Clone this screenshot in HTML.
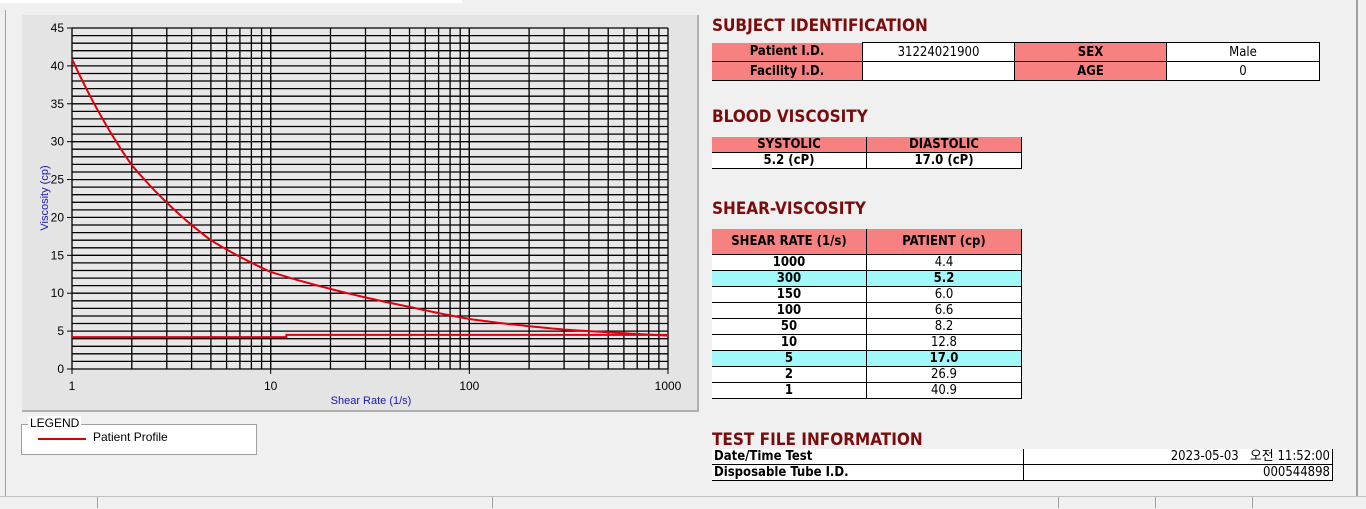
<!DOCTYPE html>
<html><head><meta charset="utf-8"><style>
body{margin:0;width:1366px;height:508px;background:#f0f0f0;position:relative;overflow:hidden;font-family:"Liberation Sans","Noto Sans CJK KR",sans-serif}
.abs{position:absolute}
h2{position:absolute;margin:0;font:bold 17px "DejaVu Sans Condensed","Liberation Sans",sans-serif;color:#7a0c0c;letter-spacing:0}
table{position:absolute;border-collapse:collapse;font-family:"DejaVu Sans Condensed","Liberation Sans",sans-serif;font-size:13px;color:#000}
td{border:1px solid #000;padding:0;text-align:center;height:18px;line-height:15px}
.h{background:#f78080;font-weight:bold}
.w{background:#fff}
.c{background:#a0f8f8;font-weight:bold}
.b{font-weight:bold}
</style></head><body>
<div class="abs" style="left:0;top:0;width:462px;height:3px;background:#fff"></div>
<div class="abs" style="left:5px;top:10px;width:1px;height:486px;background:#a0a0a0"></div>
<div class="abs" style="left:1356px;top:0;width:2px;height:496px;background:#a0a0a0"></div>
<div class="abs" style="left:22px;top:15px;width:675px;height:395px;background:#e4e4e4;border-right:2px solid #b0b0b0;border-bottom:2px solid #b0b0b0"></div>
<svg class="abs" style="left:0;top:0" width="700" height="420" id="ch"></svg>
<div class="abs" style="left:21px;top:424px;width:234px;height:29px;background:#fff;border:1px solid #a0a0a0"></div>
<div class="abs" style="left:28px;top:416px;background:#fff;font-size:12px;padding:0 2px">LEGEND</div>
<div class="abs" style="left:38px;top:438px;width:48px;height:2px;background:#d00"></div>
<div class="abs" style="left:93px;top:430px;font-size:12px">Patient Profile</div>

<h2 style="left:712px;top:16px">SUBJECT IDENTIFICATION</h2>
<table style="left:712px;top:42px;width:608px">
<tr><td class="h" style="width:150px;border-top:none;border-left:none">Patient I.D.</td><td class="w" style="width:151px">31224021900</td><td class="h" style="width:151px">SEX</td><td class="w">Male</td></tr>
<tr><td class="h" style="border-left:none">Facility I.D.</td><td class="w"></td><td class="h">AGE</td><td class="w">0</td></tr>
</table>
<h2 style="left:712px;top:107px">BLOOD VISCOSITY</h2>
<table style="left:712px;top:137px;width:310px">
<tr><td class="h" style="width:154px;height:15px;border-top:none;border-left:none">SYSTOLIC</td><td class="h" style="height:15px;border-top:none">DIASTOLIC</td></tr>
<tr><td class="w b" style="height:15px;border-left:none">5.2 (cP)</td><td class="w b" style="height:15px">17.0 (cP)</td></tr>
</table>
<h2 style="left:712px;top:199px">SHEAR-VISCOSITY</h2>
<table style="left:712px;top:229px;width:310px">
<tr><td class="h" style="width:154px;height:25px;border-top:none;border-left:none">SHEAR RATE (1/s)</td><td class="h" style="height:25px;border-top:none">PATIENT (cp)</td></tr>
<tr><td class="w b" style="height:15px;border-left:none">1000</td><td class="w" style="height:15px">4.4</td></tr>
<tr><td class="c" style="height:15px;border-left:none">300</td><td class="c" style="height:15px">5.2</td></tr>
<tr><td class="w b" style="height:15px;border-left:none">150</td><td class="w" style="height:15px">6.0</td></tr>
<tr><td class="w b" style="height:15px;border-left:none">100</td><td class="w" style="height:15px">6.6</td></tr>
<tr><td class="w b" style="height:15px;border-left:none">50</td><td class="w" style="height:15px">8.2</td></tr>
<tr><td class="w b" style="height:15px;border-left:none">10</td><td class="w" style="height:15px">12.8</td></tr>
<tr><td class="c" style="height:15px;border-left:none">5</td><td class="c" style="height:15px">17.0</td></tr>
<tr><td class="w b" style="height:15px;border-left:none">2</td><td class="w" style="height:15px">26.9</td></tr>
<tr><td class="w b" style="height:15px;border-left:none">1</td><td class="w" style="height:15px">40.9</td></tr>
</table>
<h2 style="left:712px;top:430px">TEST FILE INFORMATION</h2>
<table style="left:712px;top:449px;width:621px">
<tr><td class="w b" style="width:309px;height:15px;text-align:left;padding-left:2px;border-top:none;border-left:none">Date/Time Test</td><td class="w" style="height:15px;text-align:right;padding-right:2px;border-top:none">2023-05-03 &nbsp; 오전 11:52:00</td></tr>
<tr><td class="w b" style="height:15px;text-align:left;padding-left:2px;border-left:none">Disposable Tube I.D.</td><td class="w" style="height:15px;text-align:right;padding-right:2px">000544898</td></tr>
</table>
<div class="abs" style="left:0;top:496px;width:1366px;height:12px;background:#f0f0f0;border-top:1px solid #c0c0c0"></div>
<div class="abs" style="left:97px;top:497px;width:1px;height:11px;background:#a0a0a0"></div>
<div class="abs" style="left:492px;top:497px;width:1px;height:11px;background:#a0a0a0"></div>
<div class="abs" style="left:1058px;top:497px;width:1px;height:11px;background:#a0a0a0"></div>
<div class="abs" style="left:1155px;top:497px;width:1px;height:11px;background:#a0a0a0"></div>
<div class="abs" style="left:1252px;top:497px;width:1px;height:11px;background:#a0a0a0"></div>
<script>
var s='',X0=72,X1=668,Y0=369,Y1=28;
function px(v){return X0+Math.log10(v)*(X1-X0)/3}
function py(v){return Y0-v*(Y0-Y1)/45}
s+='<rect x="72" y="28" width="596" height="341" fill="#e8e8e8"/>';
for(var i=0;i<=45;i++){var y=py(i).toFixed(1);s+='<line x1="72" x2="668" y1="'+y+'" y2="'+y+'" stroke="#000" stroke-width="1.3"/>';}
for(var d=1;d<=100;d*=10)for(var k=1;k<=10;k++){var x=px(d*k).toFixed(1);s+='<line y1="28" y2="369" x1="'+x+'" x2="'+x+'" stroke="#000" stroke-width="1.3"/>';}
s+='<line x1="72" x2="72" y1="28" y2="369" stroke="#000"/><line x1="72" x2="668" y1="369" y2="369" stroke="#000"/>';
for(var i=0;i<=45;i+=5){var y=py(i);s+='<line x1="67" x2="72" y1="'+y+'" y2="'+y+'" stroke="#000"/><text x="64" y="'+(y+4)+'" font-size="12" text-anchor="end" font-family="Liberation Sans">'+i+'</text>';}
[1,10,100,1000].forEach(function(v){var x=px(v);s+='<line x1="'+x+'" x2="'+x+'" y1="369" y2="374" stroke="#000"/><text x="'+x+'" y="390" font-size="12" text-anchor="middle" font-family="Liberation Sans">'+v+'</text>';});
s+='<text x="371" y="404" font-size="11" fill="#1818b0" text-anchor="middle" font-family="Liberation Sans">Shear Rate (1/s)</text>';
s+='<text transform="translate(48,198) rotate(-90)" font-size="11" fill="#1818b0" text-anchor="middle" font-family="Liberation Sans">Viscosity (cp)</text>';
var P=[[1,40.9],[2,26.9],[5,17],[10,12.8],[50,8.2],[100,6.6],[150,6],[300,5.2],[1000,4.4]];
var pts=[];
for(var j=0;j<P.length-1;j++){var a=P[j],b=P[j+1];for(var t=0;t<20;t++){var f=t/20;var lx=Math.log(a[0])+f*(Math.log(b[0])-Math.log(a[0]));var ly=Math.log(a[1])+f*(Math.log(b[1])-Math.log(a[1]));pts.push(px(Math.exp(lx)).toFixed(1)+','+py(Math.exp(ly)).toFixed(1));}}
pts.push(px(1000)+','+py(4.4));
s+='<polyline points="'+pts.join(' ')+'" fill="none" stroke="#e00010" stroke-width="2"/>';
s+='<polyline points="72,'+py(4.2)+' '+px(12)+','+py(4.2)+' '+px(12)+','+py(4.5)+' 668,'+py(4.5)+'" fill="none" stroke="#e00010" stroke-width="2"/>';
document.getElementById('ch').innerHTML=s;
</script>
</body></html>
